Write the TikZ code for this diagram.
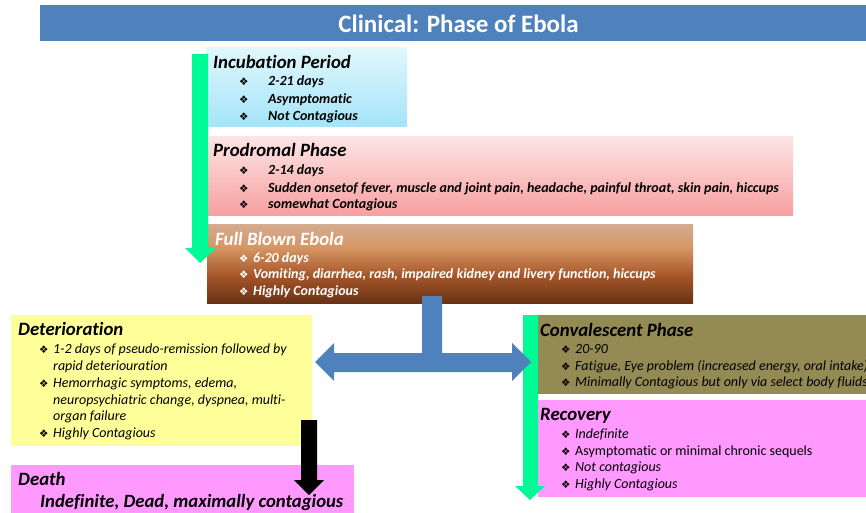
\documentclass[tikz,border=0pt]{standalone}
\usepackage{fontspec}
\setmainfont[Ligatures={NoCommon}]{Carlito}
\newfontfamily\symfont{DejaVu Sans}
\definecolor{titleblue}{RGB}{79,129,189}
\definecolor{sgreen}{RGB}{0,250,150}
\definecolor{cyantop}{RGB}{224,247,252}
\definecolor{cyanbot}{RGB}{164,228,250}
\definecolor{pinktop}{RGB}{253,228,228}
\definecolor{pinkbot}{RGB}{247,160,160}
\definecolor{yellowbox}{RGB}{255,255,153}
\definecolor{magentabox}{RGB}{255,153,255}
\definecolor{olivebox}{RGB}{148,138,84}
\definecolor{brownA}{RGB}{212,172,144}
\definecolor{brownB}{RGB}{214,150,100}
\definecolor{brownC}{RGB}{165,85,40}
\definecolor{brownD}{RGB}{105,50,20}
\pgfdeclareverticalshading{brownshade}{100bp}{color(0bp)=(brownD); color(25bp)=(brownD); color(42bp)=(brownC); color(60bp)=(brownB); color(75bp)=(brownA); color(100bp)=(brownA)}
\newcommand\dia{{\symfont\fontsize{10.5}{10}\selectfont ❖}}
\begin{document}
\begin{tikzpicture}[x=1pt,y=-1pt,
  box/.style={rectangle, inner sep=0pt, outer sep=0pt, anchor=north west, draw=none},
  hd/.style={anchor=base west, inner sep=0pt, font=\fontsize{18.8}{20}\selectfont\bfseries\itshape},
  bi/.style={anchor=base west, inner sep=0pt, font=\fontsize{14}{15}\selectfont\bfseries\itshape},
  it/.style={anchor=base west, inner sep=0pt, font=\fontsize{14}{15}\selectfont\itshape},
  up/.style={anchor=base west, inner sep=0pt, font=\fontsize{14}{15}\selectfont}]
\clip (0,0) rectangle (866,513);
\fill[white] (0,0) rectangle (866,513);
% boxes
\node[box, fill=titleblue, minimum width=826pt, minimum height=36pt] (title) at (40,5) {};
\node[box, top color=cyantop, bottom color=cyanbot, minimum width=201pt, minimum height=79pt] (incub) at (206,48) {};
\node[box, top color=pinktop, bottom color=pinkbot, minimum width=586pt, minimum height=78pt] (prod) at (207,137) {};
\node[box, shading=brownshade, minimum width=486pt, minimum height=79pt] (full) at (207,224) {};
\node[box, fill=yellowbox, minimum width=301pt, minimum height=131pt] (deter) at (11,315) {};
\node[box, fill=magentabox, minimum width=343pt, minimum height=48pt] (death) at (11,465) {};
\node[box, fill=olivebox, minimum width=328pt, minimum height=79pt] (conv) at (538,315) {};
\node[box, fill=magentabox, minimum width=328pt, minimum height=97pt] (recov) at (538,400) {};
% block arrows
\fill[sgreen] (192,54) -- (208,54) -- (208,248) -- (216,248) -- (200,263) -- (185,248) -- (192,248) -- cycle;
\fill[sgreen] (523,315) -- (538,315) -- (538,486) -- (545,486) -- (530,500) -- (515,486) -- (523,486) -- cycle;
\fill[titleblue] (422,296) -- (442,296) -- (442,353) -- (512,353) -- (512,343) -- (531,362) -- (512,381) -- (512,372) -- (334,372) -- (334,381) -- (315,362) -- (334,343) -- (334,353) -- (422,353) -- cycle;
\fill[black] (301,420) -- (317,420) -- (317,480) -- (324,480) -- (309,495) -- (294,480) -- (301,480) -- cycle;
% title
\node[inner sep=0pt, text=white, font=\fontsize{25}{27}\selectfont\bfseries] (ttext) at (458.5,24) {Clinical: Phase of Ebola};
% incubation
\node[hd] (ih) at (213,69) {Incubation Period};
\node[bi] (i1) at (239,86) {\makebox[29pt][l]{\dia}2-21 days};
\node[bi] (i2) at (239,104) {\makebox[29pt][l]{\dia}Asymptomatic};
\node[bi] (i3) at (239,121) {\makebox[29pt][l]{\dia}Not Contagious};
% prodromal
\node[hd] (ph) at (213,157) {Prodromal Phase};
\node[bi] (p1) at (239,175) {\makebox[29pt][l]{\dia}2-14 days};
\node[bi] (p2) at (239,192) {\makebox[29pt][l]{\dia}Sudden onsetof fever, muscle and joint pain, headache, painful throat, skin pain, hiccups};
\node[bi] (p3) at (239,208) {\makebox[29pt][l]{\dia}somewhat Contagious};
% full blown
\node[hd, text=white] (fh) at (215,245) {Full Blown Ebola};
\node[bi, text=white] (f1) at (239,262) {\makebox[14pt][l]{\color{white}\dia}6-20 days};
\node[bi, text=white] (f2) at (239,278) {\makebox[14pt][l]{\color{white}\dia}Vomiting, diarrhea, rash, impaired kidney and livery function, hiccups};
\node[bi, text=white] (f3) at (239,295) {\makebox[14pt][l]{\color{white}\dia}Highly Contagious};
% deterioration
\node[hd] (dh) at (18,335) {Deterioration};
\node[it] (d1) at (39,353) {\makebox[14pt][l]{\dia}1-2 days of pseudo-remission followed by};
\node[it] (d1b) at (53,370) {rapid deteriouration};
\node[it] (d2) at (39,387) {\makebox[14pt][l]{\dia}Hemorrhagic symptoms, edema,};
\node[it] (d2b) at (53,404) {neuropsychiatric change, dyspnea, multi-};
\node[it] (d2c) at (53,420) {organ failure};
\node[it] (d3) at (39,437) {\makebox[14pt][l]{\dia}Highly Contagious};
% death
\node[hd] (deh) at (18,485) {Death};
\node[anchor=base west, inner sep=0pt, font=\fontsize{18.7}{20}\selectfont\bfseries\itshape] (de1) at (40,507) {Indefinite, Dead, maximally contagious};
% convalescent
\node[hd] (ch) at (540,336) {Convalescent Phase};
\node[it] (c1) at (561,353) {\makebox[14pt][l]{\dia}20-90};
\node[it] (c2) at (561,370) {\makebox[14pt][l]{\dia}Fatigue, Eye problem (increased energy, oral intake)};
\node[it] (c3) at (561,386) {\makebox[14pt][l]{\dia}Minimally Contagious but only via select body fluids};
% recovery
\node[hd] (rh) at (540,420) {Recovery};
\node[it] (r1) at (561,438) {\makebox[14pt][l]{\dia}Indefinite};
\node[up] (r2) at (561,455) {\makebox[14pt][l]{\dia}Asymptomatic or minimal chronic sequels};
\node[it] (r3) at (561,471) {\makebox[14pt][l]{\dia}Not contagious};
\node[it] (r4) at (561,488) {\makebox[14pt][l]{\dia}Highly Contagious};
\end{tikzpicture}
\end{document}
